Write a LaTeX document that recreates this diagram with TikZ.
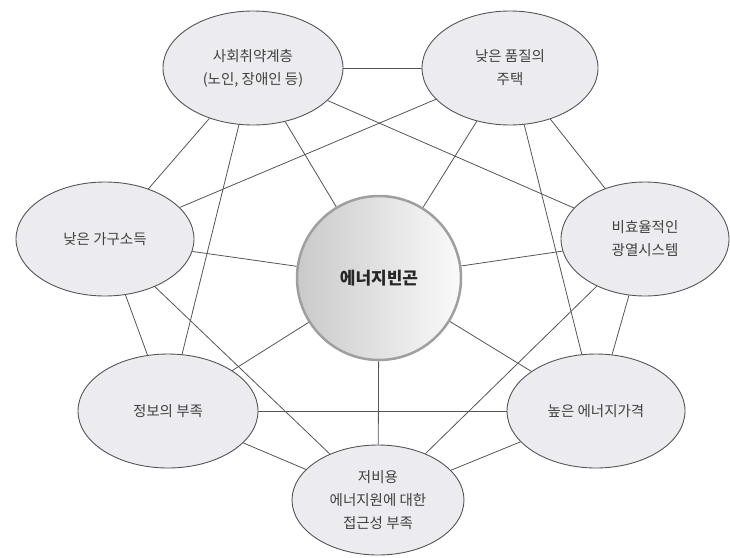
\documentclass[tikz,border=0pt]{standalone}
\usepackage{fontspec}
\setmainfont{Noto Sans CJK KR}
\definecolor{rimgray}{HTML}{555555}
\definecolor{fillgray}{HTML}{ECECF0}
\definecolor{textgray}{HTML}{404040}
\tikzset{
  factor/.style={ellipse, draw=rimgray, line width=0.9pt, fill=fillgray,
    text=textgray, align=center, inner sep=0pt,
    font=\fontsize{14.5}{23}\selectfont},
  core/.style={circle, draw=gray!75, line width=2.5pt, inner sep=0pt,
    minimum size=164pt, left color=gray!42, right color=gray!4,
    text=black!85, font=\fontsize{17}{20}\selectfont\bfseries},
  link/.style={draw=rimgray, line width=0.8pt}
}
\usetikzlibrary{shapes.geometric}
\begin{document}
\begin{tikzpicture}[x=1pt, y=-1pt]
\useasboundingbox (0,0) rectangle (730,557);

% Factors around the centre
\node[factor, minimum width=180pt, minimum height=114pt] (vulner) at (253,68) {사회취약계층\\(노인, 장애인 등)};
\node[factor, minimum width=176pt, minimum height=114pt] (house) at (510,68) {낮은 품질의\\주택};
\node[factor, minimum width=168pt, minimum height=114pt] (heat) at (645,239) {비효율적인\\광열시스템};
\node[factor, minimum width=178pt, minimum height=114pt] (price) at (596,411) {높은 에너지가격};
\node[factor, minimum width=172pt, minimum height=110pt] (access) at (378,500) {저비용\\에너지원에 대한\\접근성 부족};
\node[factor, minimum width=180pt, minimum height=114pt] (info) at (168,411) {정보의 부족};
\node[factor, minimum width=178pt, minimum height=114pt] (income) at (105,239) {낮은 가구소득};

% Centre
\node[core] (poverty) at (379,278) {에너지빈곤};

% Spokes
\draw[link] (poverty) -- (vulner);
\draw[link] (poverty) -- (house);
\draw[link] (poverty) -- (heat);
\draw[link] (poverty) -- (price);
\draw[link] (poverty) -- (access);
\draw[link] (poverty) -- (info);
\draw[link] (poverty) -- (income);

% Outer ring
\draw[link] (vulner) -- (house);
\draw[link] (house) -- (heat);
\draw[link] (heat) -- (price);
\draw[link] (price) -- (access);
\draw[link] (access) -- (info);
\draw[link] (info) -- (income);
\draw[link] (income) -- (vulner);

% Chords
\draw[link] (vulner) -- (heat);
\draw[link] (house) -- (price);
\draw[link] (heat) -- (access);
\draw[link] (price) -- (info);
\draw[link] (access) -- (income);
\draw[link] (info) -- (vulner);
\draw[link] (income) -- (house);
\end{tikzpicture}
\end{document}
